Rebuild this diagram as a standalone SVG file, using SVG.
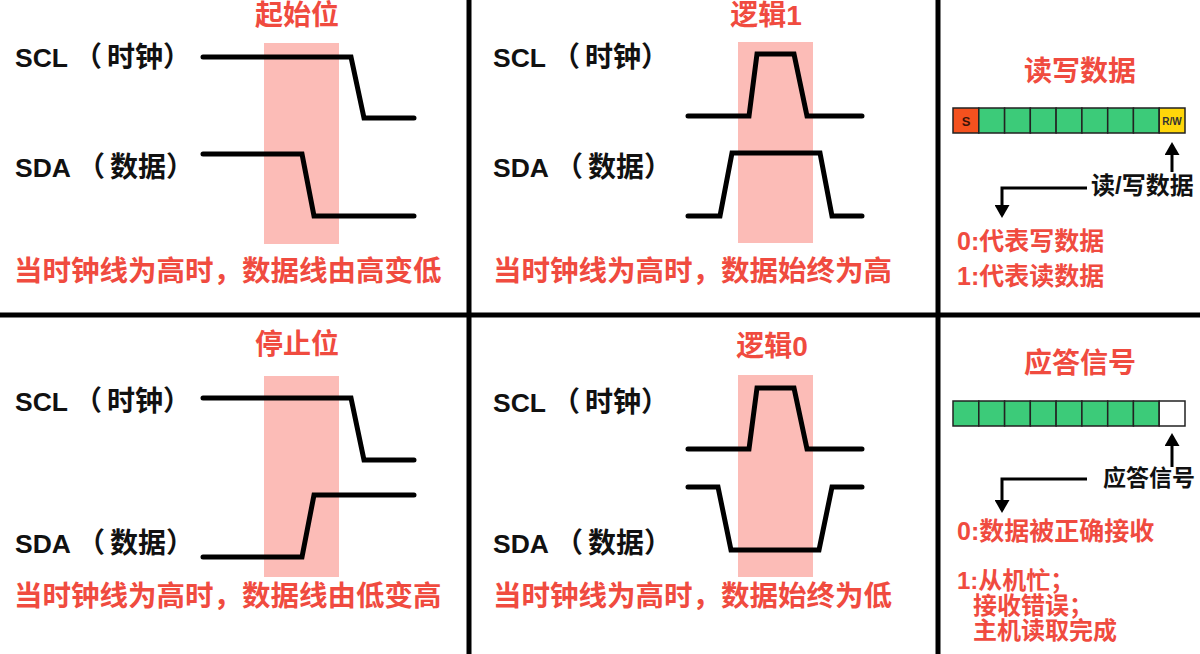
<svg xmlns="http://www.w3.org/2000/svg" width="1200" height="654" viewBox="0 0 1200 654">
<style>
.bg{fill:#ffffff}
.div{stroke:#000;stroke-width:5;fill:none}
.hl{fill:#fcbcb7}
.wave{fill:none;stroke:#000;stroke-width:5;stroke-linecap:round;stroke-linejoin:miter}
.t{font-family:"Liberation Sans","Noto Sans CJK SC",sans-serif;font-weight:bold}
.lbl{font-size:26.5px;fill:#111}
.cj{font-size:28px}
.red{fill:#f04b3f}
.ttl{font-size:28px;text-anchor:middle}
.desc{font-size:28.5px}
.sm{font-size:25px}
.xs{font-size:24px}
.blk{fill:#111}
.cell{stroke:#222;stroke-width:1.5}
.g{fill:#3ccb79}
.conn{fill:none;stroke:#000;stroke-width:3}
</style>
<defs>
<marker id="ah" viewBox="0 0 10 10" refX="7.7" refY="5" markerWidth="13" markerHeight="15" markerUnits="userSpaceOnUse" orient="auto" preserveAspectRatio="none">
<path d="M0,0 L10,5 L0,10 Z" fill="#000"/>
</marker>
</defs>
<rect class="bg" x="0" y="0" width="1200" height="654"/>
<g id="dividers">
<line class="div" x1="469" y1="0" x2="469" y2="654"/>
<line class="div" x1="938" y1="0" x2="938" y2="654"/>
<line class="div" x1="0" y1="315" x2="1200" y2="315"/>
</g>
<g id="start-bit">
<rect class="hl" x="264" y="43" width="75" height="201"/>
<text class="t ttl red" x="297" y="25">起始位</text>
<text class="t lbl" x="15" y="67">SCL<tspan class="cj" dx="6">（</tspan><tspan class="cj" dx="5">时钟）</tspan></text>
<text class="t lbl" x="15" y="177">SDA<tspan class="cj" dx="6">（</tspan><tspan class="cj" dx="5">数据）</tspan></text>
<polyline class="wave" points="203,57 351,57 364,118 414,118"/>
<polyline class="wave" points="203,154 302,154 314,216 414,216"/>
<text class="t desc red" x="14" y="281">当时钟线为高时，数据线由高变低</text>
</g>
<g id="logic-1">
<rect class="hl" x="738" y="42" width="75" height="201"/>
<text class="t ttl red" x="766" y="25">逻辑1</text>
<text class="t lbl" x="493" y="67">SCL<tspan class="cj" dx="6">（</tspan><tspan class="cj" dx="5">时钟）</tspan></text>
<text class="t lbl" x="493" y="177">SDA<tspan class="cj" dx="6">（</tspan><tspan class="cj" dx="5">数据）</tspan></text>
<polyline class="wave" points="688,116 749,116 757,54 794,54 807,116 862,116"/>
<polyline class="wave" points="688,216 720,216 732,153 820,153 832,216 862,216"/>
<text class="t desc red" x="493" y="281">当时钟线为高时，数据始终为高</text>
</g>
<g id="stop-bit">
<rect class="hl" x="264" y="376" width="75" height="201"/>
<text class="t ttl red" x="297" y="354">停止位</text>
<text class="t lbl" x="15" y="411">SCL<tspan class="cj" dx="6">（</tspan><tspan class="cj" dx="5">时钟）</tspan></text>
<text class="t lbl" x="15" y="553">SDA<tspan class="cj" dx="6">（</tspan><tspan class="cj" dx="5">数据）</tspan></text>
<polyline class="wave" points="203,398 351,398 364,460 414,460"/>
<polyline class="wave" points="203,557 302,557 314,495 414,495"/>
<text class="t desc red" x="14" y="606">当时钟线为高时，数据线由低变高</text>
</g>
<g id="logic-0">
<rect class="hl" x="738" y="375" width="75" height="202"/>
<text class="t ttl red" x="772" y="356">逻辑0</text>
<text class="t lbl" x="493" y="412">SCL<tspan class="cj" dx="6">（</tspan><tspan class="cj" dx="5">时钟）</tspan></text>
<text class="t lbl" x="493" y="553">SDA<tspan class="cj" dx="6">（</tspan><tspan class="cj" dx="5">数据）</tspan></text>
<polyline class="wave" points="688,449 749,449 757,388 794,388 807,449 862,449"/>
<polyline class="wave" points="688,487 718,487 731,550 819,550 832,487 862,487"/>
<text class="t desc red" x="493" y="606">当时钟线为高时，数据始终为低</text>
</g>
<g id="read-write">
<text class="t ttl red" x="1080" y="81">读写数据</text>
<rect class="cell" x="953" y="108" width="25.8" height="25" fill="#f4511e"/>
<rect class="cell g" x="978.8" y="108" width="25.8" height="25"/>
<rect class="cell g" x="1004.6" y="108" width="25.8" height="25"/>
<rect class="cell g" x="1030.3" y="108" width="25.8" height="25"/>
<rect class="cell g" x="1056.1" y="108" width="25.8" height="25"/>
<rect class="cell g" x="1081.9" y="108" width="25.8" height="25"/>
<rect class="cell g" x="1107.7" y="108" width="25.8" height="25"/>
<rect class="cell g" x="1133.4" y="108" width="25.8" height="25"/>
<rect class="cell" x="1159.2" y="108" width="25.8" height="25" fill="#ffd60a"/>
<text class="t" x="966" y="126" font-size="13" text-anchor="middle" fill="#3a140a">S</text>
<text class="t" x="1172" y="125" font-size="10" text-anchor="middle" fill="#333">R/W</text>
<text class="t blk" x="1091" y="194" font-size="24">读/写数据</text>
<text class="t sm red" x="957" y="250">0:代表写数据</text>
<text class="t sm red" x="957" y="285">1:代表读数据</text>
</g>
<g id="ack">
<text class="t ttl red" x="1080" y="373">应答信号</text>
<rect class="cell g" x="953" y="401" width="25.8" height="25"/>
<rect class="cell g" x="978.8" y="401" width="25.8" height="25"/>
<rect class="cell g" x="1004.6" y="401" width="25.8" height="25"/>
<rect class="cell g" x="1030.3" y="401" width="25.8" height="25"/>
<rect class="cell g" x="1056.1" y="401" width="25.8" height="25"/>
<rect class="cell g" x="1081.9" y="401" width="25.8" height="25"/>
<rect class="cell g" x="1107.7" y="401" width="25.8" height="25"/>
<rect class="cell g" x="1133.4" y="401" width="25.8" height="25"/>
<rect class="cell" x="1159.2" y="401" width="25.8" height="25" fill="#ffffff"/>
<text class="t blk" x="1103" y="486" font-size="23">应答信号</text>
<text class="t sm red" x="957" y="540">0:数据被正确接收</text>
<text class="t xs red" x="957" y="589">1:从机忙；</text>
<text class="t xs red" x="973" y="614">接收错误；</text>
<text class="t xs red" x="973" y="639">主机读取完成</text>
</g>
<g id="connectors">
<path class="conn" d="M1172,172 L1172,145" marker-end="url(#ah)"/>
<path class="conn" d="M1087,188 L1002,188 L1002,215" marker-end="url(#ah)"/>
<path class="conn" d="M1172,467 L1172,436" marker-end="url(#ah)"/>
<path class="conn" d="M1087,479 L1002,479 L1002,510" marker-end="url(#ah)"/>
</g>
</svg>
